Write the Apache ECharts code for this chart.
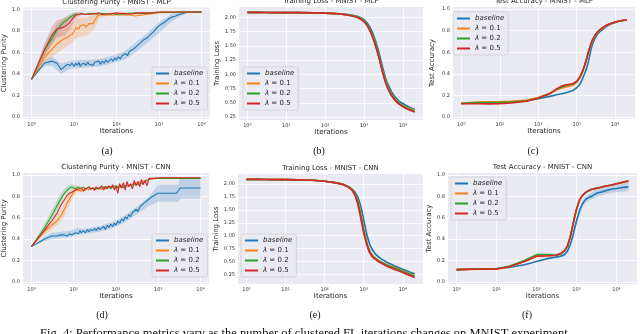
<!DOCTYPE html>
<html><head><meta charset="utf-8">
<script src="https://cdn.jsdelivr.net/npm/echarts@6/dist/echarts.min.js"></script>
<style>html,body{margin:0;padding:0;background:#fff}#c{width:640px;height:334px}</style>
</head><body><div id="c"></div>
<script>
// ---------- data ----------
const seriesNames = ['baseline', 'λ = 0.1', 'λ = 0.2', 'λ = 0.5'];
const xTicks = [1, 10, 100, 1000, 10000];
const xTickLabels = ['10⁰', '10¹', '10²', '10³', '10⁴'];
const yTicksAcc = [0, 0.2, 0.4, 0.6, 0.8, 1.0];
const yTicksLoss = [0.25, 0.5, 0.75, 1.0, 1.25, 1.5, 1.75, 2.0];

// iterations for clustering purity panels
const iterP = [1,2,3,4,5,6,7,8,9,10, 11,12,13,14,15,17,19,21,23,25, 28,31,34,38,42,46,51,56,62,68,
  75,83,92,100,110,122,135,150,165,182, 200,220,245,270,300,330,365,400,440,490,
  540,600,660,730,800,890,980,1080,1200,1330, 1470,1630,1800,2000,2200,2450,2700,3000,3300,3650,
  4000,4500,5000,6000,7000,8000,9000,10000];
// iterations for loss / accuracy panels
const iterL = [1,2,3,5,10,20,50,100,200,300, 400,500,600,700,800,900,1000,1200,1400,1600,
  1800,2000,2300,2600,3000,3500,4000,5000,6000,7000, 8000,10000,12000,15000,20000];

// (a) Clustering Purity - MNIST - MLP
const a_baseline = [0.35,0.50,0.52,0.50,0.44,0.47,0.49,0.48,0.50,0.47,
  0.50,0.48,0.51,0.47,0.49,0.50,0.48,0.51,0.49,0.50,
  0.48,0.51,0.50,0.52,0.49,0.52,0.50,0.53,0.51,0.52,
  0.54,0.52,0.55,0.53,0.56,0.54,0.57,0.56,0.59,0.57,
  0.61,0.60,0.63,0.62,0.66,0.65,0.69,0.68,0.72,0.73,
  0.74,0.76,0.77,0.79,0.80,0.83,0.83,0.86,0.865,0.88,
  0.89,0.91,0.92,0.93,0.935,0.94,0.945,0.955,0.96,0.965,
  0.975,0.975,0.975,0.975,0.975,0.975,0.975,0.975];
const a_lambda01 = [0.35,0.55,0.63,0.68,0.71,0.73,0.74,0.76,0.77,0.79,
  0.83,0.84,0.82,0.85,0.84,0.86,0.84,0.85,0.87,0.88,
  0.87,0.90,0.93,0.95,0.96,0.95,0.96,0.95,0.96,0.955,
  0.96,0.95,0.96,0.955,0.96,0.95,0.96,0.955,0.96,0.95,
  0.96,0.95,0.955,0.94,0.955,0.945,0.96,0.95,0.96,0.955,
  0.965,0.96,0.97,0.965,0.97,0.97,0.975,0.975,0.975,0.975,
  0.975,0.975,0.975,0.975,0.975,0.975,0.975,0.975,0.975,0.975,
  0.977,0.977,0.977,0.977,0.977,0.977,0.977,0.977];
const a_lambda02 = [0.35,0.62,0.73,0.81,0.86,0.89,0.91,0.93,0.94,0.95,
  0.96,0.96,0.955,0.96,0.965,0.96,0.955,0.96,0.965,0.96,
  0.96,0.955,0.965,0.96,0.96,0.965,0.955,0.96,0.965,0.96,
  0.96,0.965,0.96,0.955,0.965,0.96,0.965,0.96,0.955,0.965,
  0.96,0.965,0.96,0.97,0.96,0.965,0.97,0.965,0.97,0.965,
  0.97,0.97,0.975,0.97,0.975,0.975,0.975,0.975,0.975,0.975,
  0.975,0.975,0.975,0.975,0.975,0.975,0.975,0.975,0.975,0.975,
  0.977,0.977,0.977,0.977,0.977,0.977,0.977,0.977];
const a_lambda05 = [0.35,0.62,0.76,0.82,0.83,0.84,0.86,0.88,0.91,0.93,
  0.95,0.96,0.955,0.96,0.965,0.955,0.96,0.965,0.955,0.96,
  0.965,0.955,0.96,0.97,0.96,0.955,0.965,0.96,0.97,0.96,
  0.955,0.965,0.96,0.97,0.96,0.965,0.955,0.965,0.97,0.96,
  0.965,0.96,0.97,0.965,0.96,0.97,0.965,0.97,0.965,0.97,
  0.97,0.965,0.975,0.97,0.975,0.975,0.975,0.978,0.978,0.978,
  0.978,0.978,0.978,0.978,0.978,0.978,0.978,0.978,0.978,0.978,
  0.978,0.978,0.978,0.978,0.978,0.978,0.978,0.978];
const a_bandBaseX  = [1,2,3,5,8,12,20,40,80,150,300,600,1000,1500,2000,3000,4000,5000,10000];
const a_bandBaseLo = [0.35,0.47,0.48,0.40,0.45,0.45,0.46,0.47,0.50,0.53,0.61,0.71,0.78,0.85,0.89,0.93,0.96,0.97,0.97];
const a_bandBaseHi = [0.35,0.53,0.56,0.50,0.52,0.53,0.53,0.54,0.57,0.61,0.70,0.80,0.88,0.93,0.96,0.99,0.99,0.98,0.98];
const a_band01X  = [1,2,3,5,8,12,20,30,40,60,100,1000,10000];
const a_band01Lo = [0.35,0.50,0.56,0.62,0.68,0.74,0.76,0.82,0.92,0.94,0.94,0.96,0.97];
const a_band01Hi = [0.35,0.60,0.70,0.80,0.85,0.92,0.93,0.96,0.97,0.97,0.97,0.98,0.98];
const a_band05X  = [1,2,3,4,6,8,10,12,15];
const a_band05Lo = [0.35,0.56,0.68,0.74,0.76,0.82,0.88,0.93,0.94];
const a_band05Hi = [0.35,0.68,0.84,0.90,0.92,0.94,0.97,0.98,0.97];
const a_band02X  = [1,2,3,4,6,8,10,12];
const a_band02Lo = [0.35,0.57,0.68,0.76,0.85,0.90,0.93,0.95];
const a_band02Hi = [0.35,0.67,0.78,0.86,0.93,0.96,0.97,0.97];

// (b) Training Loss - MNIST - MLP
const b_baseline = [2.085,2.085,2.084,2.083,2.082,2.080,2.077,2.073,2.065,2.055,
  2.045,2.035,2.025,2.012,1.995,1.975,1.955,1.900,1.830,1.750,
  1.660,1.570,1.430,1.290,1.120,0.950,0.840,0.700,0.620,0.565,
  0.525,0.490,0.455,0.420,0.385];
const b_lambda01 = [2.085,2.085,2.084,2.083,2.082,2.080,2.077,2.072,2.063,2.052,
  2.040,2.028,2.016,2.000,1.982,1.960,1.935,1.870,1.790,1.705,
  1.610,1.515,1.370,1.230,1.060,0.900,0.795,0.660,0.585,0.535,
  0.500,0.455,0.425,0.395,0.360];
const b_lambda02 = [2.085,2.085,2.084,2.083,2.082,2.080,2.077,2.072,2.062,2.051,
  2.038,2.026,2.014,1.998,1.980,1.957,1.932,1.867,1.785,1.698,
  1.600,1.505,1.360,1.220,1.050,0.890,0.785,0.650,0.575,0.525,
  0.490,0.445,0.415,0.385,0.350];
const b_lambda05 = [2.085,2.085,2.084,2.083,2.082,2.080,2.077,2.072,2.062,2.050,
  2.036,2.022,2.008,1.992,1.972,1.948,1.922,1.855,1.770,1.680,
  1.585,1.490,1.345,1.205,1.030,0.870,0.765,0.630,0.560,0.510,
  0.475,0.430,0.400,0.370,0.340];

// (c) Test Accuracy - MNIST - MLP
const c_baseline = [0.125,0.128,0.130,0.132,0.135,0.140,0.150,0.168,0.190,0.205,
  0.215,0.222,0.230,0.238,0.245,0.255,0.270,0.300,0.350,0.400,
  0.450,0.510,0.610,0.680,0.730,0.770,0.790,0.820,0.840,0.855,
  0.865,0.875,0.885,0.893,0.900];
const c_lambda01 = [0.125,0.135,0.138,0.140,0.142,0.145,0.155,0.180,0.220,0.250,
  0.265,0.275,0.282,0.288,0.295,0.305,0.320,0.360,0.410,0.470,
  0.530,0.590,0.660,0.710,0.750,0.785,0.805,0.830,0.848,0.860,
  0.868,0.878,0.886,0.894,0.900];
const c_lambda02 = [0.125,0.130,0.132,0.133,0.134,0.138,0.150,0.175,0.215,0.255,
  0.275,0.288,0.295,0.300,0.305,0.312,0.325,0.365,0.415,0.475,
  0.535,0.595,0.665,0.715,0.755,0.788,0.808,0.833,0.850,0.862,
  0.870,0.880,0.887,0.895,0.900];
const c_lambda05 = [0.122,0.122,0.121,0.120,0.122,0.128,0.145,0.172,0.215,0.260,
  0.285,0.295,0.300,0.305,0.310,0.318,0.330,0.370,0.420,0.480,
  0.540,0.600,0.670,0.720,0.760,0.790,0.810,0.835,0.850,0.862,
  0.870,0.880,0.887,0.895,0.900];

// (d) Clustering Purity - MNIST - CNN
const d_baseline = [0.33,0.40,0.43,0.43,0.44,0.44,0.43,0.45,0.44,0.43,
  0.46,0.47,0.45,0.48,0.46,0.48,0.46,0.49,0.47,0.49,
  0.48,0.50,0.48,0.51,0.49,0.50,0.52,0.49,0.53,0.51,
  0.54,0.52,0.55,0.53,0.57,0.55,0.59,0.57,0.61,0.59,
  0.63,0.61,0.65,0.64,0.68,0.66,0.70,0.69,0.73,0.72,
  0.76,0.75,0.79,0.78,0.81,0.82,0.83,0.83,0.83,0.83,
  0.83,0.83,0.83,0.83,0.83,0.83,0.83,0.83,0.88,0.88,
  0.88,0.88,0.88,0.88,0.88,0.88,0.88,0.88];
const d_lambda01 = [0.33,0.47,0.53,0.57,0.62,0.68,0.74,0.78,0.81,0.84,
  0.86,0.87,0.86,0.87,0.85,0.87,0.86,0.88,0.86,0.87,
  0.88,0.86,0.88,0.87,0.88,0.87,0.89,0.87,0.88,0.89,
  0.88,0.89,0.87,0.89,0.88,0.90,0.88,0.90,0.89,0.90,
  0.89,0.91,0.90,0.92,0.91,0.93,0.92,0.94,0.93,0.95,
  0.95,0.96,0.96,0.965,0.97,0.97,0.97,0.97,0.97,0.97,
  0.97,0.97,0.97,0.97,0.97,0.97,0.97,0.97,0.97,0.97,
  0.97,0.97,0.97,0.97,0.97,0.97,0.97,0.97];
const d_lambda02 = [0.33,0.50,0.62,0.71,0.78,0.83,0.86,0.88,0.89,0.88,
  0.87,0.88,0.89,0.87,0.88,0.89,0.87,0.88,0.89,0.87,
  0.88,0.89,0.87,0.88,0.89,0.88,0.87,0.89,0.88,0.89,
  0.87,0.89,0.88,0.90,0.88,0.89,0.90,0.88,0.90,0.89,
  0.90,0.89,0.91,0.90,0.91,0.90,0.92,0.91,0.93,0.94,
  0.95,0.96,0.965,0.97,0.97,0.97,0.97,0.97,0.97,0.97,
  0.97,0.97,0.97,0.97,0.97,0.97,0.97,0.97,0.97,0.97,
  0.97,0.97,0.97,0.97,0.97,0.97,0.97,0.97];
const d_lambda05 = [0.33,0.48,0.57,0.64,0.72,0.77,0.81,0.83,0.84,0.85,
  0.86,0.85,0.87,0.86,0.88,0.85,0.87,0.86,0.89,0.87,
  0.88,0.86,0.89,0.87,0.88,0.90,0.86,0.89,0.87,0.90,
  0.88,0.91,0.86,0.90,0.83,0.92,0.88,0.93,0.86,0.94,
  0.89,0.92,0.87,0.95,0.90,0.94,0.89,0.96,0.91,0.95,
  0.90,0.97,0.96,0.97,0.97,0.97,0.975,0.975,0.975,0.975,
  0.975,0.975,0.975,0.975,0.975,0.975,0.975,0.975,0.975,0.975,
  0.975,0.975,0.975,0.975,0.975,0.975,0.975,0.975];
const d_bandBaseX  = [1,2,3,5,8,12,20,40,80,150,300,600,1000,2000,3000,3300,5000,10000];
const d_bandBaseLo = [0.33,0.38,0.40,0.41,0.42,0.44,0.45,0.47,0.50,0.55,0.63,0.71,0.75,0.75,0.75,0.78,0.78,0.78];
const d_bandBaseHi = [0.33,0.42,0.46,0.47,0.48,0.50,0.50,0.52,0.56,0.61,0.70,0.80,0.91,0.91,0.91,0.97,0.97,0.97];
const d_band01X  = [1,2,3,4,5,6,8,10,12,15];
const d_band01Lo = [0.33,0.44,0.49,0.53,0.57,0.62,0.72,0.80,0.84,0.84];
const d_band01Hi = [0.33,0.50,0.57,0.62,0.68,0.74,0.84,0.88,0.90,0.89];
const d_band02X  = [1,2,3,4,5,6,8,10,12];
const d_band02Lo = [0.33,0.46,0.57,0.66,0.74,0.80,0.85,0.86,0.86];
const d_band02Hi = [0.33,0.54,0.67,0.76,0.83,0.87,0.91,0.91,0.90];

// (e) Training Loss - MNIST - CNN
const e_baseline = [2.085,2.085,2.084,2.083,2.080,2.077,2.070,2.050,2.020,1.990,
  1.950,1.900,1.840,1.750,1.620,1.470,1.300,1.020,0.850,0.750,
  0.690,0.645,0.605,0.570,0.540,0.510,0.485,0.450,0.420,0.400,
  0.380,0.355,0.330,0.300,0.265];
const e_lambda01 = [2.085,2.085,2.084,2.083,2.080,2.077,2.070,2.050,2.020,1.988,
  1.945,1.890,1.810,1.680,1.500,1.300,1.120,0.870,0.720,0.640,
  0.595,0.565,0.535,0.510,0.485,0.460,0.440,0.410,0.385,0.365,
  0.350,0.320,0.295,0.265,0.225];
const e_lambda02 = [2.085,2.085,2.084,2.083,2.080,2.077,2.070,2.050,2.020,1.988,
  1.945,1.888,1.800,1.660,1.470,1.270,1.090,0.850,0.705,0.625,
  0.585,0.555,0.525,0.500,0.475,0.450,0.430,0.400,0.375,0.355,
  0.340,0.310,0.285,0.255,0.215];
const e_lambda05 = [2.085,2.085,2.084,2.083,2.080,2.077,2.070,2.050,2.020,1.985,
  1.940,1.880,1.780,1.620,1.420,1.220,1.050,0.820,0.680,0.610,
  0.570,0.540,0.510,0.485,0.460,0.430,0.410,0.380,0.355,0.335,
  0.320,0.290,0.265,0.235,0.195];

// (f) Test Accuracy - MNIST - CNN
const f_baseline = [0.115,0.118,0.120,0.122,0.125,0.135,0.160,0.190,0.220,0.232,
  0.240,0.255,0.290,0.350,0.420,0.500,0.570,0.670,0.730,0.760,
  0.780,0.790,0.800,0.810,0.825,0.835,0.840,0.850,0.860,0.865,
  0.870,0.875,0.880,0.885,0.890];
const f_lambda01 = [0.115,0.118,0.119,0.120,0.122,0.140,0.190,0.240,0.245,0.250,
  0.262,0.288,0.338,0.418,0.515,0.605,0.675,0.765,0.805,0.828,
  0.843,0.853,0.863,0.868,0.874,0.879,0.884,0.894,0.899,0.904,
  0.909,0.918,0.924,0.933,0.943];
const f_lambda02 = [0.115,0.118,0.119,0.120,0.123,0.145,0.200,0.255,0.255,0.250,
  0.262,0.290,0.340,0.420,0.518,0.608,0.678,0.768,0.808,0.830,
  0.845,0.855,0.865,0.870,0.876,0.881,0.886,0.896,0.901,0.906,
  0.911,0.920,0.926,0.935,0.945];
const f_lambda05 = [0.115,0.117,0.118,0.119,0.120,0.140,0.190,0.240,0.245,0.250,
  0.265,0.290,0.340,0.420,0.520,0.610,0.680,0.770,0.810,0.830,
  0.845,0.855,0.865,0.870,0.875,0.880,0.885,0.895,0.900,0.905,
  0.910,0.920,0.925,0.935,0.945];
const f_bandBaseX  = [300,500,700,1000,1500,2000,3000,5000,10000,20000];
const f_bandBaseLo = [0.22,0.24,0.33,0.54,0.72,0.76,0.79,0.82,0.84,0.85];
const f_bandBaseHi = [0.245,0.27,0.37,0.60,0.78,0.82,0.86,0.88,0.91,0.93];

// ---------- layout / style ----------
const COLORS = ['#1f77b4', '#ff7f0e', '#2ca02c', '#d62728'];
const TXT = '#262626';
const FONT = '"DejaVu Sans", sans-serif';
const SERIF = '"Liberation Serif", "DejaVu Serif", serif';

const panels = [
  {grid:{left:23,top:7.5,width:187,height:111.5}, xr:[-0.2,4.2], yr:[-0.02,1.02], yt:yTicksAcc, dec:1,
   x:iterP, lines:[a_baseline,a_lambda01,a_lambda02,a_lambda05], lw:1.1,
   bands:[[a_bandBaseX,a_bandBaseLo,a_bandBaseHi,0],[a_band01X,a_band01Lo,a_band01Hi,1],[a_band02X,a_band02Lo,a_band02Hi,2],[a_band05X,a_band05Lo,a_band05Hi,3]],
   title:'Clustering Purity - MNIST - MLP', ylabel:'Clustering Purity', nameGap:13.5, leg:[152,67], cap:'(a)', capPos:[107,151]},
  {grid:{left:239,top:7,width:184,height:113}, xr:[-0.215,4.515], yr:[0.2,2.18], yt:yTicksLoss, dec:2,
   x:iterL, lines:[b_baseline,b_lambda01,b_lambda02,b_lambda05], lw:1.7, bands:[],
   title:'Training Loss - MNIST - MLP', ylabel:'Training Loss', nameGap:15.5, leg:[243,67], cap:'(b)', capPos:[319,151]},
  {grid:{left:453,top:7,width:182,height:112}, xr:[-0.215,4.515], yr:[-0.02,1.02], yt:yTicksAcc, dec:1,
   x:iterL, lines:[c_baseline,c_lambda01,c_lambda02,c_lambda05], lw:1.6, bands:[],
   title:'Test Accuracy - MNIST - MLP', ylabel:'Test Accuracy', nameGap:17, leg:[453,12], cap:'(c)', capPos:[533,151]},
  {grid:{left:23,top:173,width:186,height:111}, xr:[-0.2,4.2], yr:[-0.02,1.02], yt:yTicksAcc, dec:1,
   x:iterP, lines:[d_baseline,d_lambda01,d_lambda02,d_lambda05], lw:1.1,
   bands:[[d_bandBaseX,d_bandBaseLo,d_bandBaseHi,0],[d_band01X,d_band01Lo,d_band01Hi,1],[d_band02X,d_band02Lo,d_band02Hi,2]],
   title:'Clustering Purity - MNIST - CNN', ylabel:'Clustering Purity', nameGap:15, leg:[152,234], cap:'(d)', capPos:[102,315]},
  {grid:{left:238,top:174,width:185,height:110}, xr:[-0.215,4.515], yr:[0.07,2.19], yt:yTicksLoss, dec:2,
   x:iterL, lines:[e_baseline,e_lambda01,e_lambda02,e_lambda05], lw:1.7, bands:[],
   title:'Training Loss - MNIST - CNN', ylabel:'Training Loss', nameGap:16, leg:[241,234], cap:'(e)', capPos:[315,315]},
  {grid:{left:448,top:173,width:189,height:111}, xr:[-0.215,4.515], yr:[-0.02,1.02], yt:yTicksAcc, dec:1,
   x:iterL, lines:[f_baseline,f_lambda01,f_lambda02,f_lambda05], lw:1.6,
   bands:[[f_bandBaseX,f_bandBaseLo,f_bandBaseHi,0]],
   title:'Test Accuracy - MNIST - CNN', ylabel:'Test Accuracy', nameGap:14.5, leg:[451,177], cap:'(f)', capPos:[527,315]}
];

const zip = (xs, ys) => xs.map((x, i) => [x, ys[i]]);

const grid = [], xAxis = [], yAxis = [], series = [], legend = [], graphic = [];
panels.forEach((p, k) => {
  grid.push(Object.assign({show:true, backgroundColor:'#eaeaf2', borderWidth:0, containLabel:false}, p.grid));
  xAxis.push({
    type:'log', logBase:10, gridIndex:k,
    min: Math.pow(10, p.xr[0]), max: Math.pow(10, p.xr[1]),
    name:'Iterations', nameLocation:'middle', nameGap:8.5,
    nameTextStyle:{fontSize:7, color:TXT, fontFamily:FONT},
    axisLine:{show:false}, axisTick:{show:false, customValues:xTicks},
    minorTick:{show:false}, minorSplitLine:{show:false},
    splitLine:{show:true, lineStyle:{color:'#ffffff', width:0.8}},
    axisLabel:{customValues:xTicks, fontSize:5, color:'#333', margin:3, fontFamily:FONT,
      formatter: v => { const e = Math.log10(v), r = Math.round(e); return Math.abs(e - r) < 1e-6 && r >= 0 && r < xTickLabels.length ? xTickLabels[r] : ''; }}
  });
  yAxis.push({
    type:'value', gridIndex:k, min:p.yr[0], max:p.yr[1],
    name:p.ylabel, nameLocation:'middle', nameGap:p.nameGap, nameRotate:90,
    nameTextStyle:{fontSize:7, color:TXT, fontFamily:FONT},
    axisLine:{show:false}, axisTick:{show:false, customValues:p.yt},
    splitLine:{show:true, lineStyle:{color:'#ffffff', width:0.8}},
    axisLabel:{customValues:p.yt, fontSize:5, color:'#333', margin:3, fontFamily:FONT,
      formatter: v => p.yt.some(t => Math.abs(t - v) < 1e-6) ? v.toFixed(p.dec) : ''}
  });
  // confidence bands
  p.bands.forEach(([bx, lo, hi, ci]) => {
    series.push({
      type:'custom', name:'band', xAxisIndex:k, yAxisIndex:k, silent:true, z:1, clip:true,
      data: bx.map((x, i) => [x, lo[i], hi[i]]), encode:{x:0, y:[1,2]},
      renderItem: (params, api) => {
        if (params.dataIndex !== 0) return null;
        const pts = [];
        for (let i = 0; i < bx.length; i++) pts.push(api.coord([bx[i], lo[i]]));
        for (let i = bx.length - 1; i >= 0; i--) pts.push(api.coord([bx[i], hi[i]]));
        return {type:'polygon', shape:{points:pts}, style:{fill:COLORS[ci], opacity:0.22}};
      }
    });
  });
  p.lines.forEach((ys, j) => {
    series.push({
      type:'line', name:seriesNames[j], xAxisIndex:k, yAxisIndex:k, data:zip(p.x, ys),
      symbol:'none', showSymbol:false, z:2 + j, color:COLORS[j],
      lineStyle:{width:p.lw, color:COLORS[j]}, animation:false
    });
  });
  legend.push({
    data:seriesNames, orient:'vertical', left:p.leg[0], top:p.leg[1],
    icon:'rect', itemWidth:13, itemHeight:2, itemGap:3, selectedMode:false,
    padding:[3,4,3,4], backgroundColor:'rgba(234,234,242,0.85)', borderColor:'#cccccc', borderWidth:0.7, borderRadius:2,
    textStyle:{fontSize:7, color:TXT, fontFamily:FONT, rich:{i:{fontStyle:'italic', fontSize:7, color:TXT, fontFamily:FONT}}},
    formatter: n => n === 'baseline' ? '{i|baseline}' : '{i|λ}' + n.slice(1)
  });
  const cx = p.grid.left + p.grid.width / 2;
  graphic.push({type:'text', silent:true, style:{text:p.title, x:cx, y:p.grid.top - 5.5, align:'center', verticalAlign:'middle', font:'7px ' + FONT, fill:TXT}});
  graphic.push({type:'text', silent:true, style:{text:p.cap, x:p.capPos[0], y:p.capPos[1], align:'center', verticalAlign:'middle', font:'10px ' + SERIF, fill:'#111'}});
});
graphic.push({type:'text', silent:true, style:{text:'Fig. 4: Performance metrics vary as the number of clustered FL iterations changes on MNIST experiment.', x:40, y:334, align:'left', verticalAlign:'middle', font:'12.5px ' + SERIF, fill:'#111'}});

const chart = echarts.init(document.getElementById('c'), null, {renderer:'canvas'});
chart.setOption({
  animation:false, backgroundColor:'#ffffff',
  textStyle:{fontFamily:FONT},
  grid, xAxis, yAxis, series, legend, graphic
});
</script></body></html>
